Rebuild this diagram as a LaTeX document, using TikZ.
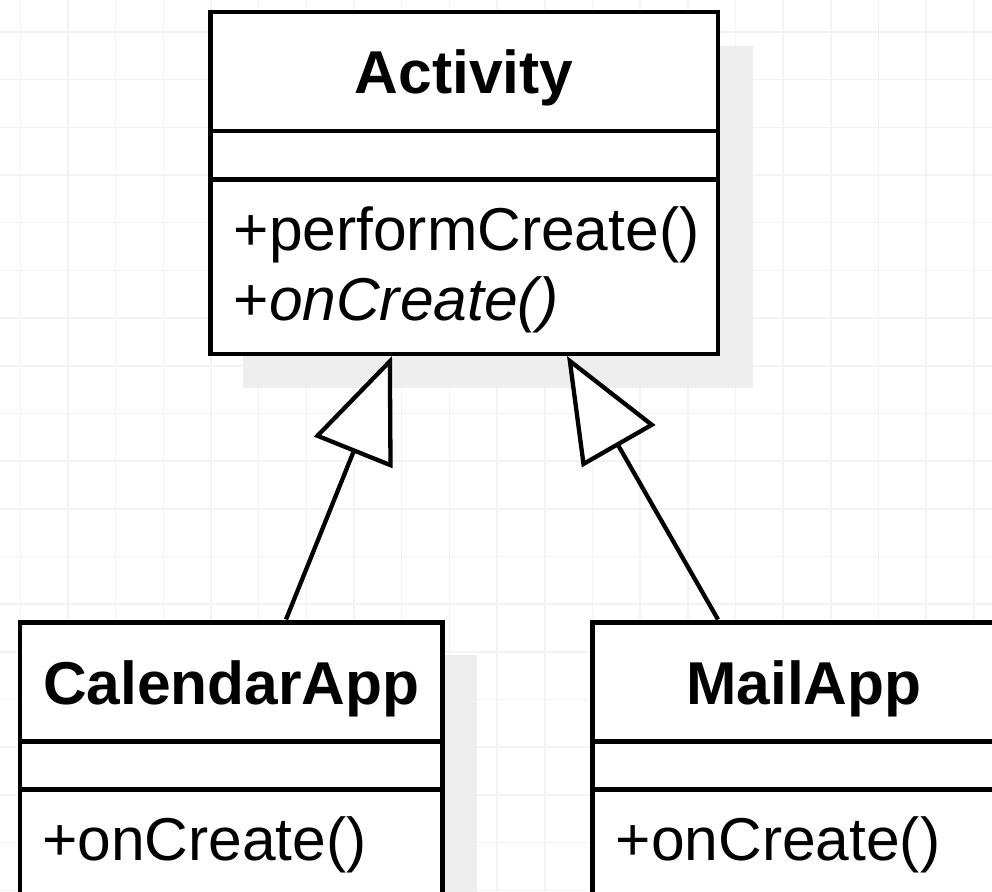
\documentclass[tikz,border=0pt]{standalone}
\usepackage{fontspec}
\setmainfont{Liberation Sans}
\usetikzlibrary{arrows.meta,calc}

\definecolor{gridline}{RGB}{243,243,243}
\definecolor{shadowgray}{RGB}{238,238,238}

\tikzset{
  umlbox/.style={draw=black, line width=4.5pt, fill=white, rectangle,
    inner sep=0pt, outer sep=0pt, anchor=north west},
  divider/.style={draw=black, line width=4.5pt},
  boxshadow/.style={fill=shadowgray, draw=none},
  hdr/.style={font=\fontsize{60.5}{72}\selectfont\bfseries, inner sep=0pt, anchor=base},
  mth/.style={font=\fontsize{60.5}{72}\selectfont, inner sep=0pt, anchor=base west},
  inherit/.style={draw=black, line width=4.3pt,
    -{Triangle[length=104pt, width=84pt, fill=white, line width=4.3pt]}},
}

\begin{document}
\begin{tikzpicture}[x=1pt, y=-1pt]
  \useasboundingbox (0,0) rectangle (992,891);
  \clip (0,0) rectangle (992,891);
  \fill[white] (0,0) rectangle (992,891);

  % background grid
  \foreach \i in {0,...,20} {
    \draw[gridline, line width=1.5pt] (20.3+47.68*\i,0) -- (20.3+47.68*\i,891);
    \draw[gridline, line width=1.5pt] (0,32+47.68*\i) -- (992,32+47.68*\i);
  }

  % drop shadows
  \fill[boxshadow] (243,46) rectangle (753,388);
  \fill[boxshadow] (53,655) rectangle (477,930);
  \fill[boxshadow] (625,655) rectangle (1050,930);

  % Activity class
  \node[umlbox, minimum width=507.5pt, minimum height=342pt] (act) at (210.5,12) {};
  \draw[divider] ($(act.north west)+(0,119)$) -- ($(act.north east)+(0,119)$);
  \draw[divider] ($(act.north west)+(0,167.5)$) -- ($(act.north east)+(0,167.5)$);
  \node[hdr] (actName) at ($(act.north)+(0,81)$) {Activity};
  \node[mth] (actM1) at ($(act.north west)+(23,238)$) {+performCreate()};
  \node[mth] (actM2) at ($(act.north west)+(23,308)$) {+\textit{onCreate()}};

  % CalendarApp class
  \node[umlbox, minimum width=422.7pt, minimum height=290pt] (cal) at (20,622.5) {};
  \draw[divider] ($(cal.north west)+(0,119.2)$) -- ($(cal.north east)+(0,119.2)$);
  \draw[divider] ($(cal.north west)+(0,167)$) -- ($(cal.north east)+(0,167)$);
  \node[hdr] (calName) at ($(cal.north)+(0,81.5)$) {CalendarApp};
  \node[mth] (calM) at ($(cal.north west)+(22,237.5)$) {+onCreate()};

  % MailApp class
  \node[umlbox, minimum width=422.7pt, minimum height=290pt] (mail) at (592.5,622.5) {};
  \draw[divider] ($(mail.north west)+(0,119.2)$) -- ($(mail.north east)+(0,119.2)$);
  \draw[divider] ($(mail.north west)+(0,167)$) -- ($(mail.north east)+(0,167)$);
  \node[hdr] (mailName) at ($(mail.north)+(0,81.5)$) {MailApp};
  \node[mth] (mailM) at ($(mail.north west)+(23,237.5)$) {+onCreate()};

  % connector end points on the class borders
  \coordinate (calTop)  at ($(cal.north west)+(266,-3)$);
  \coordinate (mailTop) at ($(mail.north west)+(125.5,-3)$);
  \coordinate (actL)    at ($(act.south west)+(181.5,2)$);
  \coordinate (actR)    at ($(act.south west)+(356.5,2)$);

  % generalisation arrows
  \draw[inherit] (calTop) -- (actL);
  \draw[inherit] (mailTop) -- (actR);
\end{tikzpicture}
\end{document}
